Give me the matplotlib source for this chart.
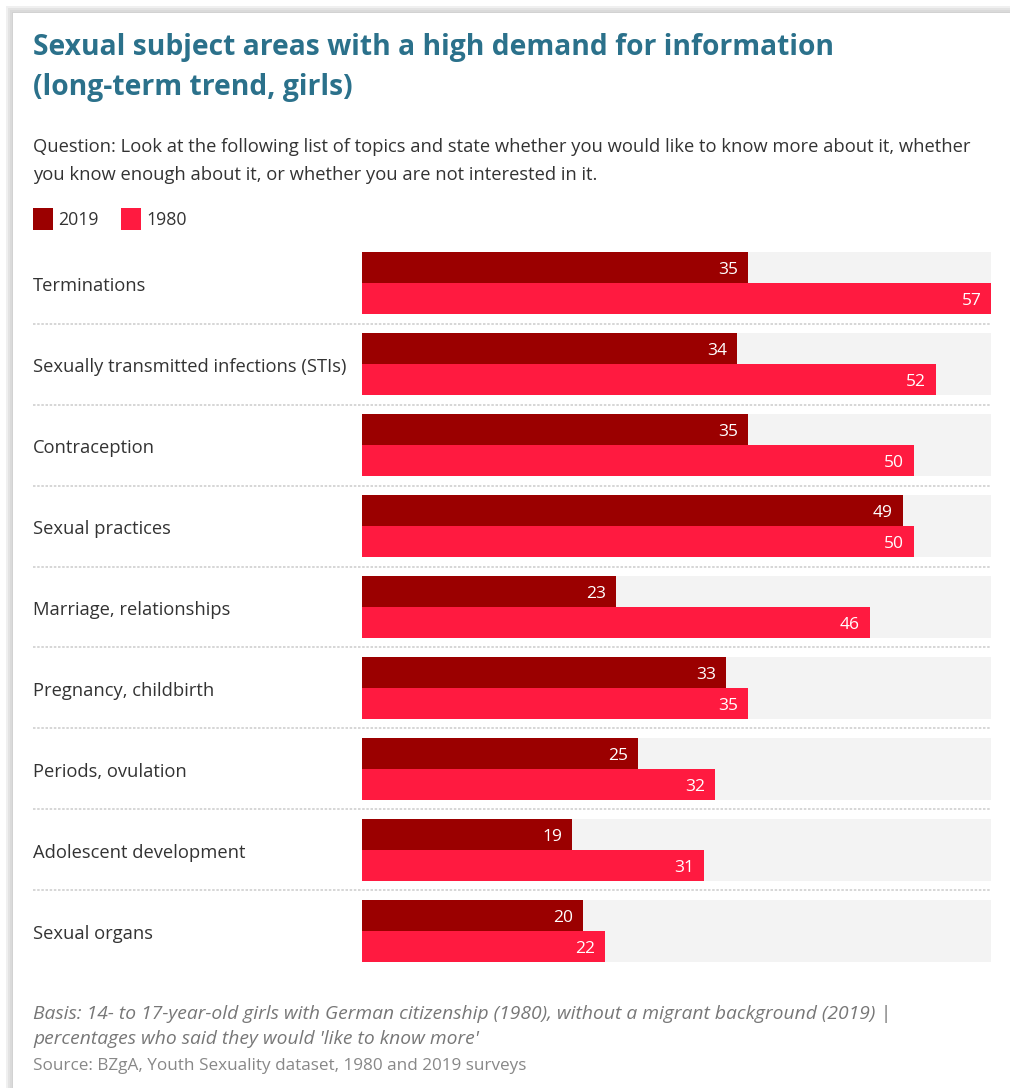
import matplotlib.pyplot as plt
from matplotlib.patches import Rectangle
from matplotlib.transforms import blended_transform_factory, offset_copy

plt.rcParams['font.family'] = ['Open Sans', 'DejaVu Sans']

categories = ['Terminations', 'Sexually transmitted infections (STIs)', 'Contraception',
              'Sexual practices', 'Marriage, relationships', 'Pregnancy, childbirth',
              'Periods, ovulation', 'Adolescent development', 'Sexual organs']
values_2019 = [35, 34, 35, 49, 23, 33, 25, 19, 20]
values_1980 = [57, 52, 50, 50, 46, 35, 32, 31, 22]
series_labels = ['2019', '1980']

color_2019 = '#9b0000'
color_1980 = '#ff1a40'
title_color = '#2b718b'
text_color = '#333333'

W, H = 1010, 1088
fig = plt.figure(figsize=(W / 100, H / 100), dpi=100)
fig.patch.set_facecolor('white')


def fx(px):
    return px / W


def fy(py):
    return 1 - py / H


# card shadow
bg = fig.add_axes([0, 0, 1, 1])
bg.set_xlim(0, W)
bg.set_ylim(H, 0)
bg.axis('off')
for i, a in enumerate([0.03, 0.04, 0.05, 0.06]):
    d = 12 - i * 2
    bg.add_patch(Rectangle((d, d), W, H, color='black', alpha=a, lw=0))
bg.add_patch(Rectangle((13, 13), W, H, color='white', lw=0))

fig.text(fx(33), fy(47), 'Sexual subject areas with a high demand for information',
         fontsize=20.3, fontweight='bold', color=title_color, va='center', ha='left')
fig.text(fx(33), fy(88), '(long-term trend, girls)',
         fontsize=20.3, fontweight='bold', color=title_color, va='center', ha='left')
fig.text(fx(33), fy(147), 'Question: Look at the following list of topics and state whether you would like to know more about it, whether',
         fontsize=13.2, color=text_color, va='center', ha='left')
fig.text(fx(33), fy(175), 'you know enough about it, or whether you are not interested in it.',
         fontsize=13.2, color=text_color, va='center', ha='left')

# legend
bg.add_patch(Rectangle((33, 208), 20, 22, color=color_2019, lw=0))
fig.text(fx(58), fy(220), series_labels[0], fontsize=12.8, color=text_color, va='center')
bg.add_patch(Rectangle((121, 208), 20, 22, color=color_1980, lw=0))
fig.text(fx(146), fy(220), series_labels[1], fontsize=12.8, color=text_color, va='center')

# bars
ax = fig.add_axes([fx(362), fy(962), fx(991) - fx(362), fy(252) - fy(962)])
ax.set_xlim(0, 57)
bh = 0.383
n = len(categories)
ax.set_ylim(n - 1 + bh, -bh)
ax.axis('off')

ys = list(range(n))
ax.barh(ys, [57] * n, height=2 * bh, color='#f3f3f3', lw=0)
ax.barh([y - bh / 2 for y in ys], values_2019, height=bh, color=color_2019, lw=0)
ax.barh([y + bh / 2 for y in ys], values_1980, height=bh, color=color_1980, lw=0)

for y, v in zip(ys, values_2019):
    ax.annotate(str(v), (v, y - bh / 2), xytext=(-7, -2), textcoords='offset points',
                ha='right', va='center', color='white', fontsize=12.5)
for y, v in zip(ys, values_1980):
    ax.annotate(str(v), (v, y + bh / 2), xytext=(-7, -2), textcoords='offset points',
                ha='right', va='center', color='white', fontsize=12.5)

trans = blended_transform_factory(fig.transFigure, ax.transData)
label_trans = offset_copy(trans, fig=fig, y=-2, units='points')
for y, c in zip(ys, categories):
    ax.text(fx(33), y, c, transform=label_trans, ha='left', va='center', fontsize=13.2,
            color=text_color, clip_on=False)
for y in ys[:-1]:
    ax.plot([fx(33), fx(991)], [y + 0.5, y + 0.5], transform=trans, color='#d0d0d0',
            lw=1.2, ls=(0, (1.5, 1)), clip_on=False)

fig.text(fx(33), fy(1014), "Basis: 14- to 17-year-old girls with German citizenship (1980), without a migrant background (2019) |",
         fontsize=13.9, style='italic', color='#777777', va='center')
fig.text(fx(33), fy(1039), "percentages who said they would 'like to know more'",
         fontsize=13.9, style='italic', color='#777777', va='center')
fig.text(fx(33), fy(1066), 'Source: BZgA, Youth Sexuality dataset, 1980 and 2019 surveys',
         fontsize=12.3, color='#888888', va='center')

fig.savefig('out.png', dpi=100)
